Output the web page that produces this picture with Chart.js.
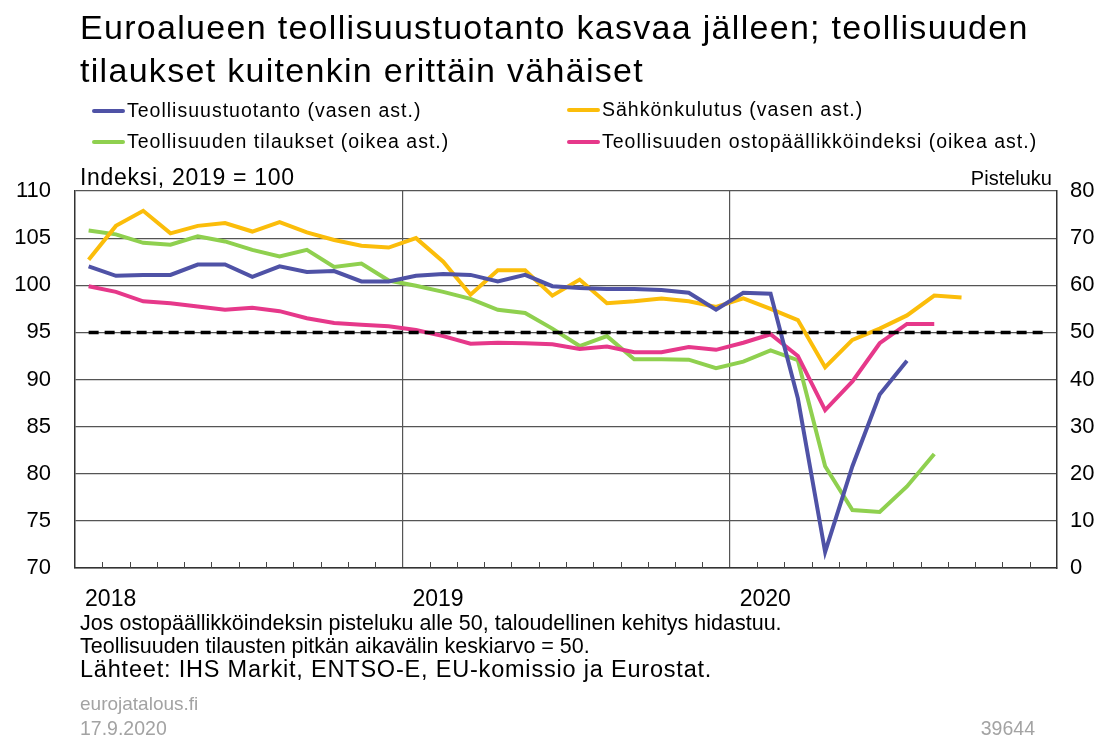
<!DOCTYPE html>
<html lang="fi">
<head>
  <meta charset="UTF-8">
  <title>Euroalueen teollisuustuotanto</title>
  <script src="https://cdn.jsdelivr.net/npm/chart.js"></script>
  <style>
    * { font-family: 'Liberation Sans', Arial, sans-serif; }
    body { margin: 0; background: #fff; }
    #wrap { position: relative; width: 1108px; height: 737px; overflow: hidden; }
    #wrap canvas { position: absolute; left: 0; top: 0; }
    .txt { position: absolute; white-space: nowrap; color: #000; line-height: 1; }
    .title { left: 80px; top: 6px; font-size: 34px; line-height: 43.4px; letter-spacing: 1.3px; }
    .leg { font-size: 19.5px; line-height: 24px; letter-spacing: 1px; }
    .leg i { display: inline-block; width: 33px; height: 4px; border-radius: 2px; vertical-align: middle; margin-right: 2px; position: relative; top: -1px; }
    .gray { color: #a3a3a3; }
  </style>
</head>
<body>
  <div id="wrap">
    <canvas id="chart" width="1108" height="737"></canvas>

    <div class="txt title">Euroalueen teollisuustuotanto kasvaa jälleen; teollisuuden<br>tilaukset kuitenkin erittäin vähäiset</div>

    <div class="txt leg" style="left:92px; top:98px;"><i style="background:#4f52a6"></i>Teollisuustuotanto (vasen ast.)</div>
    <div class="txt leg" style="left:567px; top:97px;"><i style="background:#fbbd0a"></i>Sähkönkulutus (vasen ast.)</div>
    <div class="txt leg" style="left:92px; top:129px;"><i style="background:#8fd04f"></i>Teollisuuden tilaukset (oikea ast.)</div>
    <div class="txt leg" style="left:567px; top:129px;"><i style="background:#e6388a"></i>Teollisuuden ostopäällikköindeksi (oikea ast.)</div>

    <div class="txt" style="left:80px; top:166px; font-size:23px; letter-spacing:0.7px;">Indeksi, 2019 = 100</div>
    <div class="txt" style="right:56px; top:168px; font-size:20px;">Pisteluku</div>

    <div class="txt" style="left:80px; top:613px; font-size:21.5px;">Jos ostopäällikköindeksin pisteluku alle 50, taloudellinen kehitys hidastuu.</div>
    <div class="txt" style="left:80px; top:636px; font-size:21.5px;">Teollisuuden tilausten pitkän aikavälin keskiarvo = 50.</div>
    <div class="txt" style="left:80px; top:658px; font-size:23.5px; letter-spacing:0.8px;">Lähteet: IHS Markit, ENTSO-E, EU-komissio ja Eurostat.</div>
    <div class="txt gray" style="left:80px; top:694px; font-size:19px;">eurojatalous.fi</div>
    <div class="txt gray" style="left:80px; top:719px; font-size:19.5px;">17.9.2020</div>
    <div class="txt gray" style="right:73px; top:719px; font-size:19.5px;">39644</div>
  </div>

  <script>
    // kuukaudet 2018-01 ... 2020-12
    const months = [
      '2018-01','2018-02','2018-03','2018-04','2018-05','2018-06','2018-07','2018-08','2018-09','2018-10','2018-11','2018-12',
      '2019-01','2019-02','2019-03','2019-04','2019-05','2019-06','2019-07','2019-08','2019-09','2019-10','2019-11','2019-12',
      '2020-01','2020-02','2020-03','2020-04','2020-05','2020-06','2020-07','2020-08','2020-09','2020-10','2020-11','2020-12'
    ];
    const yearLabels = ['2018', '2019', '2020'];

    // vasen asteikko (indeksi 2019 = 100)
    const teollisuustuotanto = [102.0, 101.0, 101.1, 101.1, 102.2, 102.2, 100.9, 102.0, 101.4, 101.5, 100.4, 100.4,
      101.0, 101.2, 101.1, 100.4, 101.1, 99.9, 99.7, 99.6, 99.6, 99.5, 99.2, 97.4,
      99.2, 99.1, 88.0, 71.7, 80.8, 88.4, 92.0];
    const sahkonkulutus = [102.7, 106.3, 107.9, 105.5, 106.3, 106.6, 105.7, 106.7, 105.6, 104.8, 104.2, 104.0,
      105.0, 102.5, 99.0, 101.6, 101.6, 98.9, 100.6, 98.1, 98.3, 98.6, 98.3, 97.7,
      98.6, 97.5, 96.3, 91.3, 94.2, 95.4, 96.8, 98.9, 98.7];

    // oikea asteikko (pisteluku)
    const tilaukset = [71.6, 70.8, 69.0, 68.6, 70.4, 69.3, 67.5, 66.1, 67.5, 63.9, 64.6, 61.0,
      59.9, 58.6, 57.1, 54.8, 54.1, 50.8, 47.1, 49.2, 44.3, 44.3, 44.2, 42.4,
      43.8, 46.2, 44.1, 21.6, 12.3, 11.9, 17.3, 24.2];
    const ostopaallikko = [59.8, 58.6, 56.6, 56.2, 55.5, 54.8, 55.2, 54.5, 53.0, 52.0, 51.6, 51.3,
      50.5, 49.2, 47.6, 47.8, 47.7, 47.5, 46.5, 47.0, 45.8, 45.8, 46.9, 46.3,
      47.8, 49.6, 45.0, 33.5, 39.6, 47.7, 51.8, 51.8];
    const raja50 = [50, 50, 50, 50, 50, 50, 50, 50, 50, 50, 50, 50,
      50, 50, 50, 50, 50, 50, 50, 50, 50, 50, 50, 50,
      50, 50, 50, 50, 50, 50, 50, 50, 50, 50, 50, 50];

    const leftTicks = { min: 70, max: 110, step: 5 };
    const rightTicks = { min: 0, max: 80, step: 10 };

    const FONT = "'Liberation Sans', Arial, sans-serif";

    // pienet kuukausimerkit akselin sisäpuolelle
    const monthTicks = {
      id: 'monthTicks',
      afterDatasetsDraw(chart) {
        const { ctx, chartArea, scales } = chart;
        const x = scales.x;
        ctx.save();
        ctx.strokeStyle = '#444';
        ctx.lineWidth = 1;
        for (let i = 1; i < months.length; i++) {
          if (i % 12 === 0) continue;
          const px = Math.round((x.getPixelForValue(i) + x.getPixelForValue(i - 1)) / 2) + 0.5;
          ctx.beginPath();
          ctx.moveTo(px, chartArea.bottom);
          ctx.lineTo(px, chartArea.bottom - 6);
          ctx.stroke();
        }
        ctx.restore();
      }
    };

    const lineDs = (label, data, color, axis) => ({
      label, data, yAxisID: axis,
      borderColor: color, backgroundColor: color,
      borderWidth: 4, pointRadius: 0, tension: 0, fill: false
    });

    new Chart(document.getElementById('chart'), {
      type: 'line',
      data: {
        labels: months,
        datasets: [
          Object.assign(lineDs('Keskiarvo 50', raja50, '#000', 'y1'), { borderWidth: 3.5, borderDash: [10, 6] }),
          lineDs('Teollisuustuotanto (vasen ast.)', teollisuustuotanto, '#4f52a6', 'y'),
          lineDs('Sähkönkulutus (vasen ast.)', sahkonkulutus, '#fbbd0a', 'y'),
          lineDs('Teollisuuden ostopäällikköindeksi (oikea ast.)', ostopaallikko, '#e6388a', 'y1'),
          lineDs('Teollisuuden tilaukset (oikea ast.)', tilaukset, '#8fd04f', 'y1')
        ]
      },
      options: {
        responsive: false,
        animation: false,
        layout: { padding: { top: 191, bottom: 124, left: 0, right: 0 } },
        plugins: { legend: { display: false }, tooltip: { enabled: false } },
        scales: {
          x: {
            type: 'category',
            offset: true,
            grid: {
              offset: true,
              drawTicks: false,
              color: ctx => (ctx.index === 12 || ctx.index === 24) ? '#555' : 'rgba(0,0,0,0)',
              lineWidth: 1.2
            },
            border: { color: '#333', width: 1.5 },
            ticks: {
              autoSkip: false, maxRotation: 0, padding: 18, labelOffset: 22,
              color: '#000', font: { family: FONT, size: 23 },
              callback: (v, i) => i % 12 === 0 ? yearLabels[i / 12] : ''
            },
            afterFit: s => { s.height = 45; }
          },
          y: {
            position: 'left',
            min: leftTicks.min, max: leftTicks.max,
            grid: { color: '#555', lineWidth: 1.2, drawTicks: false },
            border: { color: '#333', width: 1.5 },
            ticks: { stepSize: leftTicks.step, padding: 24, color: '#000', font: { family: FONT, size: 22 } },
            afterFit: s => { s.width = 75; }
          },
          y1: {
            position: 'right',
            min: rightTicks.min, max: rightTicks.max,
            grid: { display: false, drawTicks: false },
            border: { color: '#333', width: 1.5 },
            ticks: { stepSize: rightTicks.step, padding: 13, color: '#000', font: { family: FONT, size: 22 } },
            afterFit: s => { s.width = 51; }
          }
        }
      },
      plugins: [monthTicks]
    });
  </script>
</body>
</html>
